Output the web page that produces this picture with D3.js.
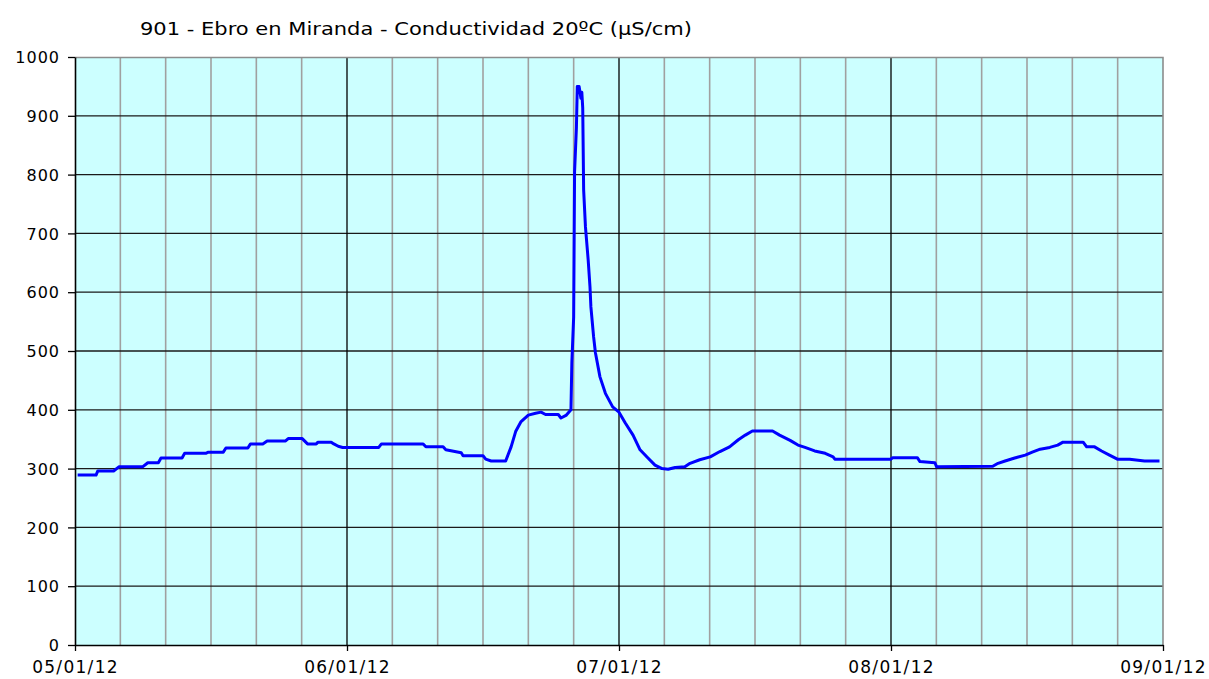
<!DOCTYPE html>
<html>
<head>
<meta charset="utf-8">
<script src="https://cdn.jsdelivr.net/npm/d3@7"></script>
<style>
  body { margin: 0; background: #ffffff; }
  text { font-family: "DejaVu Sans", Verdana, sans-serif; fill: #000; }
  .axis path, .axis line { stroke: #000; }
</style>
</head>
<body>
<div id="chart"></div>
<script>
// chart values
const title = "901 - Ebro en Miranda - Conductividad 20ºC (µS/cm)";
const monthLabels = ["05/01/12", "06/01/12", "07/01/12", "08/01/12", "09/01/12"];
const monthStartDays = [0, 31, 61, 92, 123]; // days since 05/01/12
const yTicks = [0, 100, 200, 300, 400, 500, 600, 700, 800, 900, 1000];

// days since 05/01/12
const days = [
  0.3, 2.4, 2.6, 4.4, 5.0, 7.7, 8.3, 9.5, 9.8, 12.2, 12.5, 14.9, 15.2, 16.9, 17.2, 19.7,
  20.0, 21.4, 21.9, 24.0, 24.3, 25.9, 26.5, 27.5, 27.7, 29.2, 29.5, 30.0, 30.5, 34.5, 34.8,
  39.4, 39.7, 41.6, 41.9, 43.6, 43.8, 46.0, 46.3, 46.9, 48.5, 49.1, 49.6, 50.2, 51.0, 51.8,
  52.4, 52.9, 54.3, 54.6, 55.2, 55.7, 55.8, 56.0, 56.1, 56.3, 56.4, 56.6, 56.8, 56.9, 57.0,
  57.1, 57.3, 57.6, 57.8, 57.9, 58.2, 58.4, 58.9, 59.5, 60.3, 61.0, 61.7, 62.6, 63.4, 64.3,
  65.1, 65.9, 66.6, 67.4, 68.5, 69.1, 70.2, 71.4, 72.5, 73.6, 74.6, 75.4, 76.2, 78.5, 79.3,
  80.5, 81.4, 82.2, 83.3, 84.5, 85.4, 85.6, 92.0, 92.2, 95.0, 95.3, 97.0, 97.2, 103.6, 104.2,
  105.0, 106.1, 107.3, 108.1, 109.0, 110.1, 111.0, 111.6, 113.9, 114.3, 115.2, 116.0, 116.9,
  117.8, 119.2, 120.9, 122.6
];
const conductividad = [
  289, 289, 296, 296, 303, 303, 310, 310, 318, 318, 326, 326, 328, 328, 335, 335,
  342, 342, 347, 347, 351, 351, 342, 342, 345, 345, 342, 338, 336, 336, 342,
  342, 337, 337, 332, 327, 322, 322, 316, 313, 313, 337, 363, 380, 391, 394,
  396, 392, 392, 386, 391, 400, 480, 558, 805, 879, 950, 950, 930, 940, 913,
  774, 711, 655, 609, 575, 524, 497, 456, 428, 405, 396, 378, 357, 332, 318,
  306, 300, 299, 302, 303, 309, 315, 320, 329, 337, 349, 357, 364, 364, 357,
  348, 340, 336, 330, 326, 320, 316, 316, 318.5, 318.5, 312, 310, 303, 304, 309,
  313, 318, 323, 328, 333, 336, 340, 345, 345, 337, 337, 330, 323,
  316, 316, 313, 313
];

var margin = { top: 57, right: 46, bottom: 34, left: 75 },
  width = 1209 - margin.left - margin.right,
  height = 679 - margin.top - margin.bottom;

var svg = d3
  .select("#chart")
  .append("svg")
  .attr("width", 1209)
  .attr("height", 679);

var g = svg
  .append("g")
  .attr("transform", "translate(" + margin.left + "," + margin.top + ")");

// months are drawn with equal widths
var x = d3
  .scaleLinear()
  .domain(monthStartDays)
  .range(monthStartDays.map(function (d, i) {
    return (i * width) / (monthStartDays.length - 1);
  }));
var y = d3.scaleLinear().domain([0, 1000]).range([height, 0]);

// plot background
g.append("rect")
  .attr("width", width)
  .attr("height", height)
  .attr("fill", "#ccffff");

// minor vertical grid: six parts per month
var minorDays = [];
for (let i = 0; i < monthStartDays.length - 1; i++) {
  let len = monthStartDays[i + 1] - monthStartDays[i];
  for (let k = 1; k < 6; k++) minorDays.push(monthStartDays[i] + (k * len) / 6);
}
g.selectAll(".minor")
  .data(minorDays)
  .enter()
  .append("line")
  .attr("class", "minor")
  .attr("x1", function (d) { return x(d); })
  .attr("x2", function (d) { return x(d); })
  .attr("y1", 0)
  .attr("y2", height)
  .attr("stroke", "#a0a0a0")
  .attr("stroke-width", 1.6);

// horizontal grid
g.selectAll(".hgrid")
  .data(yTicks.filter(function (d) { return d > 0 && d < 1000; }))
  .enter()
  .append("line")
  .attr("class", "hgrid")
  .attr("x1", 0)
  .attr("x2", width)
  .attr("y1", function (d) { return y(d); })
  .attr("y2", function (d) { return y(d); })
  .attr("stroke", "#1a1a1a")
  .attr("stroke-width", 1.3);

// month lines
g.selectAll(".major")
  .data(monthStartDays.slice(1, -1))
  .enter()
  .append("line")
  .attr("class", "major")
  .attr("x1", function (d) { return x(d); })
  .attr("x2", function (d) { return x(d); })
  .attr("y1", 0)
  .attr("y2", height)
  .attr("stroke", "#000")
  .attr("stroke-width", 1.3);

// top and right border
g.append("path")
  .attr("d", "M0,0.5H" + width + "V" + height)
  .attr("fill", "none")
  .attr("stroke", "#8c8c8c")
  .attr("stroke-width", 1.6);

// the series
var line = d3
  .line()
  .x(function (d, i) { return x(days[i]); })
  .y(function (d) { return y(d); });

g.append("path")
  .datum(conductividad)
  .attr("fill", "none")
  .attr("stroke", "#0000ff")
  .attr("stroke-width", 3)
  .attr("stroke-linejoin", "round")
  .attr("d", line);

// axes
var yAxis = g
  .append("g")
  .attr("class", "axis")
  .call(
    d3.axisLeft(y)
      .tickValues(yTicks)
      .tickFormat(d3.format("d"))
      .tickSize(7)
      .tickPadding(8)
      .tickSizeOuter(0)
  );
yAxis.select(".domain").attr("stroke-width", 1.6);
yAxis.selectAll("line").attr("stroke-width", 1.3);
yAxis.selectAll("text")
  .style("font-size", "16px")
  .style("letter-spacing", "1px")
  .attr("dy", "0.36em");

var xAxis = g
  .append("g")
  .attr("class", "axis")
  .attr("transform", "translate(0," + height + ")")
  .call(
    d3.axisBottom(x)
      .tickValues(monthStartDays)
      .tickSize(6)
      .tickSizeOuter(0)
      .tickPadding(10)
      .tickFormat(function (d, i) { return monthLabels[i]; })
  );
xAxis.select(".domain").attr("stroke-width", 1.6);
xAxis.selectAll("line").attr("stroke-width", 1.3);
xAxis.selectAll("text")
  .style("font-size", "17px")
  .style("letter-spacing", "1.3px");

// title
svg.append("text")
  .attr("x", 416)
  .attr("y", 35)
  .attr("text-anchor", "middle")
  .attr("textLength", 552)
  .attr("lengthAdjust", "spacingAndGlyphs")
  .style("font-size", "18px")
  .text(title);
</script>
</body>
</html>
